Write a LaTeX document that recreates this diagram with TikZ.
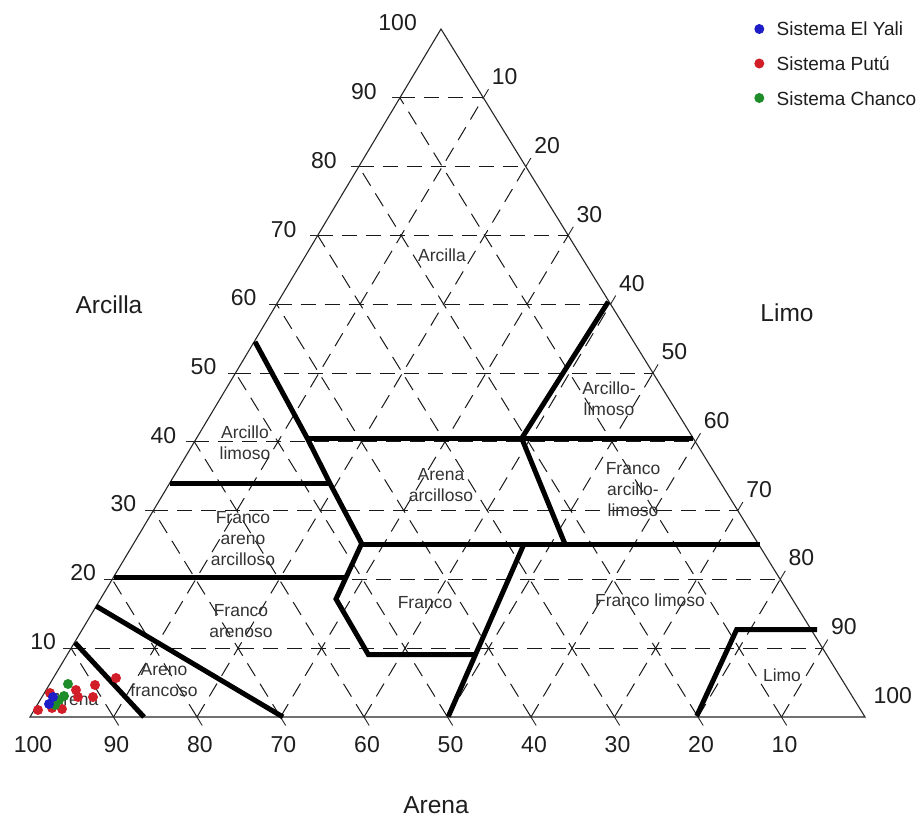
\documentclass[tikz,border=0pt]{standalone}
\usepackage{fontspec}
\setmainfont{Liberation Sans}
\usetikzlibrary{calc}
\definecolor{txt}{RGB}{30,30,30}
\definecolor{dred}{RGB}{210,30,40}
\definecolor{dblue}{RGB}{30,30,200}
\definecolor{dgreen}{RGB}{30,140,40}
\tikzset{
  gridline/.style={draw=black!90, line width=1pt, dash pattern=on 15pt off 9pt},
  edge/.style={draw=black!85, line width=1.1pt},
  tick/.style={draw=black!85, line width=0.9pt},
  bound/.style={draw=black, line width=5pt, line join=miter, line cap=butt},
  axnum/.style={font=\fontsize{23}{23}\selectfont, text=txt, inner sep=0pt},
  axtitle/.style={font=\fontsize{24.5}{24.5}\selectfont, text=txt, inner sep=0pt},
  region/.style={font=\fontsize{17.5}{21}\selectfont, text=black!80, inner sep=0pt, align=center},
  legtext/.style={font=\fontsize{19}{19}\selectfont, text=txt, inner sep=0pt, anchor=base west},
  dot/.style={circle, inner sep=0pt, minimum size=10pt}
}
\begin{document}
\begin{tikzpicture}[x=1pt, y=-1pt]
\useasboundingbox[fill=white] (0,0) rectangle (924,819);
\coordinate (A) at (30,717);
\coordinate (B) at (865,717);
\coordinate (C) at (441,29);
% grid
\foreach \k in {1,...,9} {
  \pgfmathsetmacro\f{\k/10}
  \pgfmathsetmacro\g{1-\k/10}
  \draw[gridline] ($(A)!\f!(C)$) -- ($(B)!\f!(C)$);
  \draw[gridline] ($(A)!\f!(B)$) -- ($(A)!\f!(C)$);
  \draw[gridline] ($(A)!\f!(B)$) -- ($(B)!\g!(C)$);
  % ticks
  \draw[tick] ($(A)!\f!(C)$) -- ++(-8,0);
  \draw[tick] ($(B)!\g!(C)$) -- ++(5.1,-8.6);
  \draw[tick] ($(A)!\f!(B)$) -- ++(5.2,8.5);
}
% triangle
\draw[edge] (A) -- (B) -- (C) -- cycle;
% boundaries
\draw[bound] (75,642.7) -- (144,717);
\draw[bound] (96,606) -- (283,717);
\draw[bound] (113.5,577) -- (347,577);
\draw[bound] (169.5,483.5) -- (330,483.5);
\draw[bound] (255,341.7) -- (307.3,438.3) -- (330,483.5) -- (361.7,543.5) -- (336,599) -- (368.3,654.5) -- (476,654.5);
\draw[bound] (307.3,438.3) -- (693,438.3);
\draw[bound] (608.3,301.7) -- (521.7,438.3) -- (565,544);
\draw[bound] (361.7,544) -- (760,544);
\draw[bound] (524,544) -- (448.3,716.5);
\draw[bound] (696.7,716) -- (736.7,629.5) -- (817,629.5);
% axis numbers
\foreach \k in {1,...,10} {
  \pgfmathtruncatemacro\v{10*\k}
  \node[axnum, anchor=east] (L\k) at ({417-40.1*(10-\k)},{23+68.7*(10-\k)}) {\v};
  \node[axnum, anchor=west] (R\k) at ({491.7+42.4*(\k-1)},{77+68.7*(\k-1)}) {\v};
  \node[axnum] (Bt\k) at ({33+83.5*(10-\k)},745) {\v};
}
% axis titles
\node[axtitle] (tA) at (109,305) {Arcilla};
\node[axtitle] (tL) at (787,313) {Limo};
\node[axtitle] (tS) at (436,805) {Arena};
% region labels
\node[region] (r1) at (442,255) {Arcilla};
\node[region] (r2) at (609,399) {Arcillo-\\limoso};
\node[region] (r3) at (245,443) {Arcillo\\limoso};
\node[region] (r4) at (441,485) {Arena\\arcilloso};
\node[region] (r5) at (633,490) {Franco\\arcillo-\\limoso};
\node[region] (r6) at (243,539) {Franco\\areno\\arcilloso};
\node[region] (r7) at (425,603) {Franco};
\node[region] (r8) at (650,600) {Franco limoso};
\node[region] (r9) at (241,621) {Franco\\arenoso};
\node[region] (r10) at (164,680) {Areno\\francoso};
\node[region] (r11) at (75,700) {Arena};
\node[region] (r12) at (782,675) {Limo};
% data points
\foreach \p in {(38,710),(50,693),(52,708),(76,690),(78,697),(95,685),(93,697),(116,678),(62,709)}
  \node[dot, fill=dred] at \p {};
\foreach \p in {(68,684),(59,700),(64,696),(55,705)}
  \node[dot, fill=dgreen] at \p {};
\foreach \p in {(49,704),(53,697)}
  \node[dot, fill=dblue] at \p {};
% legend
\node[dot, fill=dblue] (d1) at (759.3,29) {};
\node[dot, fill=dred] (d2) at (759.3,63.5) {};
\node[dot, fill=dgreen] (d3) at (759.3,98) {};
\node[legtext] (l1) at (776.5,35) {Sistema El Yali};
\node[legtext] (l2) at (776.5,70) {Sistema Putú};
\node[legtext] (l3) at (776.5,105) {Sistema Chanco};
\end{tikzpicture}
\end{document}
